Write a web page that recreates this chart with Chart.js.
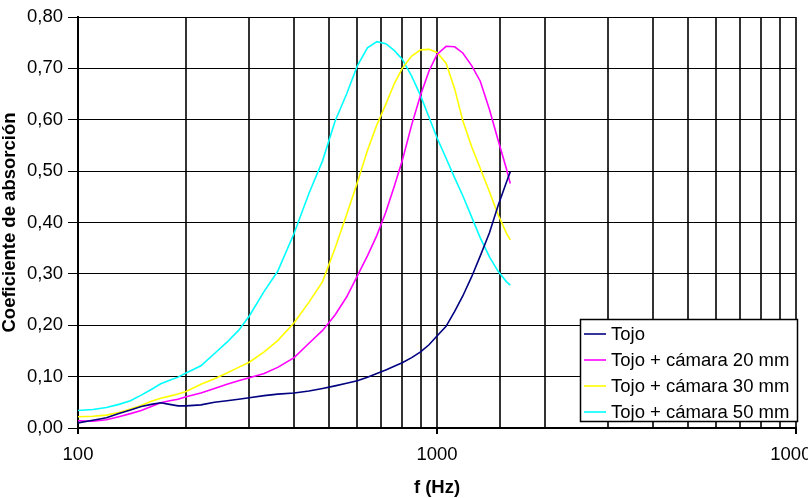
<!DOCTYPE html>
<html>
<head>
<meta charset="utf-8">
<script src="https://cdn.jsdelivr.net/npm/chart.js@4/dist/chart.umd.min.js"></script>
<style>
html,body{margin:0;padding:0;background:#fff;overflow:hidden;}
canvas{display:block;}
</style>
</head>
<body>
<canvas id="c" width="808" height="498"></canvas>
<script>
const freqs = [100,110,120,130,140,150,160,170,180,190,200,220,240,260,280,300,330,360,400,440,480,520,560,600,640,680,720,760,800,850,900,950,1000,1060,1120,1180,1250,1320,1400,1480,1560,1600];

const tojo = [0.010,0.015,0.020,0.028,0.035,0.042,0.046,0.049,0.046,0.043,0.043,0.045,0.050,0.053,0.056,0.059,0.063,0.066,0.068,0.072,0.077,0.082,0.087,0.092,0.099,0.106,0.113,0.120,0.127,0.137,0.148,0.162,0.179,0.198,0.227,0.257,0.295,0.335,0.380,0.433,0.478,0.499];

const tojo20 = [0.014,0.013,0.016,0.022,0.028,0.034,0.042,0.049,0.053,0.056,0.061,0.068,0.077,0.085,0.092,0.098,0.106,0.118,0.137,0.165,0.190,0.220,0.255,0.296,0.335,0.375,0.420,0.470,0.520,0.590,0.648,0.695,0.727,0.743,0.742,0.730,0.705,0.675,0.620,0.560,0.505,0.476];

const tojo30 = [0.022,0.023,0.025,0.030,0.037,0.044,0.052,0.058,0.062,0.066,0.071,0.085,0.096,0.107,0.118,0.128,0.148,0.170,0.205,0.245,0.285,0.350,0.415,0.478,0.540,0.590,0.630,0.670,0.700,0.724,0.736,0.737,0.731,0.710,0.660,0.598,0.547,0.505,0.460,0.415,0.380,0.366];

const tojo50 = [0.034,0.036,0.040,0.046,0.053,0.064,0.075,0.086,0.093,0.099,0.107,0.121,0.145,0.167,0.190,0.218,0.266,0.305,0.379,0.457,0.520,0.597,0.650,0.705,0.740,0.752,0.748,0.735,0.718,0.685,0.647,0.605,0.565,0.525,0.487,0.452,0.410,0.370,0.333,0.305,0.285,0.278];

const seriesNames = ['Tojo','Tojo + cámara 20 mm','Tojo + cámara 30 mm','Tojo + cámara 50 mm'];
const seriesColors = ['#000080','#ff00ff','#ffff00','#00ffff'];
const seriesValues = [tojo, tojo20, tojo30, tojo50];
const yTicks = [0,0.1,0.2,0.3,0.4,0.5,0.6,0.7,0.8];
const xLabels = [100,1000,10000];

const FONT = '"Liberation Sans", Arial, sans-serif';
const FS = 18.5;

const datasets = seriesValues.map((vals, i) => ({
  label: seriesNames[i],
  data: freqs.map((f, k) => ({x: f, y: vals[k]})),
  borderColor: seriesColors[i],
  backgroundColor: seriesColors[i],
  borderWidth: 1.6,
  pointRadius: 0,
  tension: 0,
  fill: false,
  order: i
}));

const legendPlugin = {
  id: 'boxLegend',
  afterDraw(chart) {
    const ctx = chart.ctx;
    const a = chart.chartArea;
    const w = 218, h = 103;
    const x = a.right + 2 - w;
    const y = a.bottom - 6 - h;
    ctx.save();
    ctx.fillStyle = '#fff';
    ctx.fillRect(x, y, w, h);
    ctx.strokeStyle = '#000';
    ctx.lineWidth = 1.5;
    ctx.strokeRect(x + 0.5, y + 0.5, w - 1, h - 1);
    ctx.font = FS + 'px ' + FONT;
    ctx.textBaseline = 'middle';
    ctx.textAlign = 'left';
    chart.data.datasets.forEach((ds, i) => {
      const cy = y + 15 + i * 26;
      ctx.strokeStyle = ds.borderColor;
      ctx.lineWidth = 1.6;
      ctx.beginPath();
      ctx.moveTo(x + 4, cy);
      ctx.lineTo(x + 26, cy);
      ctx.stroke();
      ctx.fillStyle = '#000';
      ctx.fillText(ds.label, x + 31, cy + 1);
    });
    ctx.restore();
  }
};

new Chart(document.getElementById('c'), {
  type: 'line',
  data: { datasets },
  options: {
    responsive: false,
    animation: false,
    devicePixelRatio: 1,
    layout: { padding: { left: 0, right: 12, top: 17, bottom: 0 } },
    plugins: { legend: { display: false }, tooltip: { enabled: false } },
    scales: {
      x: {
        type: 'logarithmic',
        min: 100,
        max: 10000,
        afterFit(s) { s.height = 70; s.paddingLeft = 0; s.paddingRight = 0; },
        border: { display: true, color: '#000', width: 2 },
        grid: {
          color: '#333',
          lineWidth: 2,
          drawTicks: true,
          tickLength: 6,
          tickColor: (c) => (c.tick && xLabels.includes(c.tick.value)) ? '#000' : 'rgba(0,0,0,0)'
        },
        ticks: {
          autoSkip: false,
          maxRotation: 0,
          padding: 10,
          color: '#000',
          font: { family: FONT, size: FS },
          callback: (v) => xLabels.includes(v) ? String(v) : ''
        },
        title: {
          display: true,
          text: 'f (Hz)',
          color: '#000',
          font: { family: FONT, size: FS, weight: 'bold', lineHeight: 1.1 },
          padding: { top: 0, bottom: 0 }
        }
      },
      y: {
        type: 'linear',
        min: 0,
        max: 0.8,
        afterFit(s) { s.width = 78; s.paddingTop = 0; s.paddingBottom = 0; },
        afterBuildTicks(s) { s.ticks = yTicks.map(v => ({value: v})); },
        border: { display: true, color: '#000', width: 2 },
        grid: {
          color: '#000',
          lineWidth: 1,
          tickLength: 10,
          tickColor: '#000'
        },
        ticks: {
          padding: 5,
          color: '#000',
          font: { family: FONT, size: FS },
          callback: (v) => Number(v).toFixed(2).replace('.', ',')
        },
        title: {
          display: true,
          text: 'Coeficiente de absorción',
          color: '#000',
          font: { family: FONT, size: FS, weight: 'bold', lineHeight: 1.1 },
          padding: { top: 0, bottom: 0 }
        }
      }
    }
  },
  plugins: [legendPlugin]
});
</script>
</body>
</html>
